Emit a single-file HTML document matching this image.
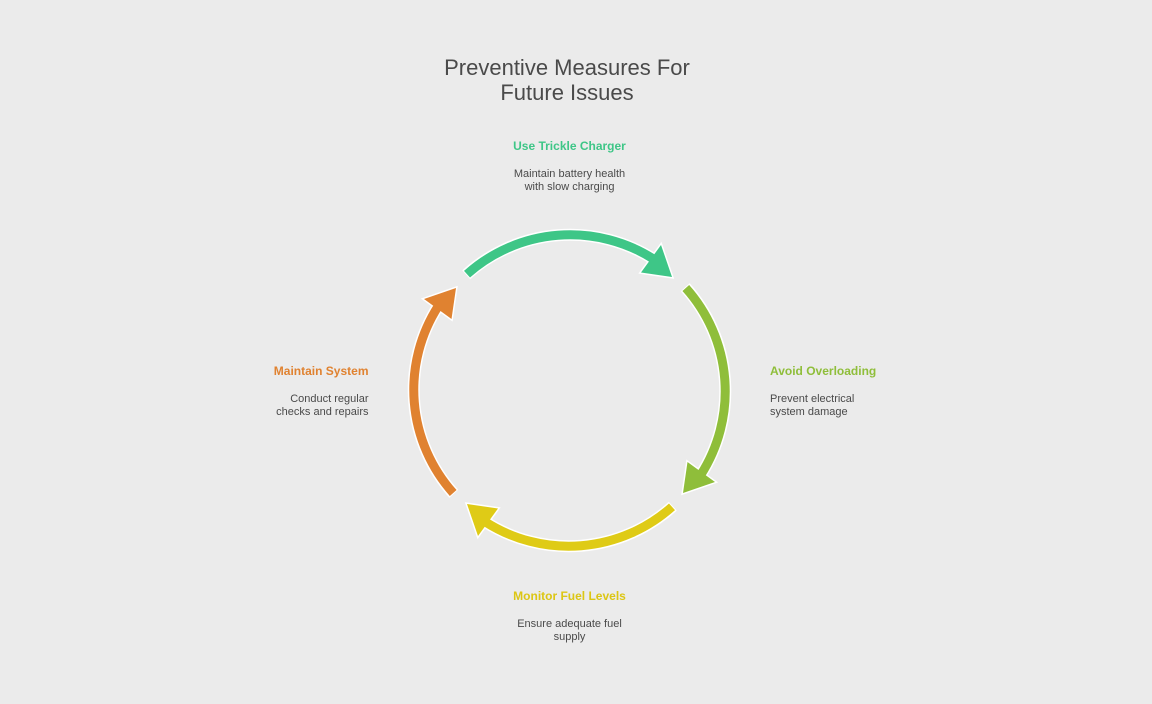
<!DOCTYPE html>
<html>
<head>
<meta charset="utf-8">
<style>
  html, body { margin:0; padding:0; }
  body { width:1152px; height:704px; background:#ebebeb; position:relative; overflow:hidden;
         font-family:"Liberation Sans", Arial, sans-serif; }
  .t { position:absolute; white-space:nowrap; }
  .title { left:367px; width:400px; top:55px; text-align:center; font-size:22px; line-height:25px; color:#4a4a4a; }
  .lab { font-size:12px; line-height:14px; font-weight:bold; }
  .desc { font-size:11px; line-height:13px; color:#4a4a4a; }
  .c { width:300px; text-align:center; }
  .r { text-align:right; }
</style>
</head>
<body>
<svg width="1152" height="704" style="position:absolute;left:0;top:0">
  <defs>
    <g id="seg">
      <path d="M 466.2 274.8 A 155 155 0 0 1 653.8 259.2" fill="none" stroke="#ffffff" stroke-width="12"/>
      <polygon points="661,245 672,277 641,272.5" fill="#ffffff" stroke="#ffffff" stroke-width="3" stroke-linejoin="miter"/>
    </g>
    <g id="segc">
      <path d="M 467 274.2 A 155 155 0 0 1 653.8 259.2" fill="none" stroke-width="9"/>
      <polygon points="661,245 672,277 641,272.5" stroke="none"/>
    </g>
  </defs>
  <g>
    <use href="#seg"/>
    <use href="#segc" stroke="#3ec687" fill="#3ec687"/>
  </g>
  <g transform="rotate(90 569.5 390.5)">
    <use href="#seg"/>
    <use href="#segc" stroke="#8fbe3a" fill="#8fbe3a"/>
  </g>
  <g transform="rotate(180 569.5 390.5)">
    <use href="#seg"/>
    <use href="#segc" stroke="#dfcb16" fill="#dfcb16"/>
  </g>
  <g transform="rotate(270 569.5 390.5)">
    <use href="#seg"/>
    <use href="#segc" stroke="#e08230" fill="#e08230"/>
  </g>
</svg>

<div class="t title">Preventive Measures For<br>Future Issues</div>

<div class="t lab c" style="left:419.5px;top:138.8px;color:#3ec687;">Use Trickle Charger</div>
<div class="t desc c" style="left:419.5px;top:168.4px;">Maintain battery health<br>with slow charging</div>

<div class="t lab" style="left:770px;top:363.8px;color:#8fbe3a;">Avoid Overloading</div>
<div class="t desc" style="left:770px;top:393.4px;">Prevent electrical<br>system damage</div>

<div class="t lab c" style="left:419.5px;top:588.8px;color:#dcc614;">Monitor Fuel Levels</div>
<div class="t desc c" style="left:419.5px;top:618.4px;">Ensure adequate fuel<br>supply</div>

<div class="t lab r" style="right:783.5px;top:363.8px;color:#e08230;">Maintain System</div>
<div class="t desc r" style="right:783.5px;top:393.4px;">Conduct regular<br>checks and repairs</div>
</body>
</html>
